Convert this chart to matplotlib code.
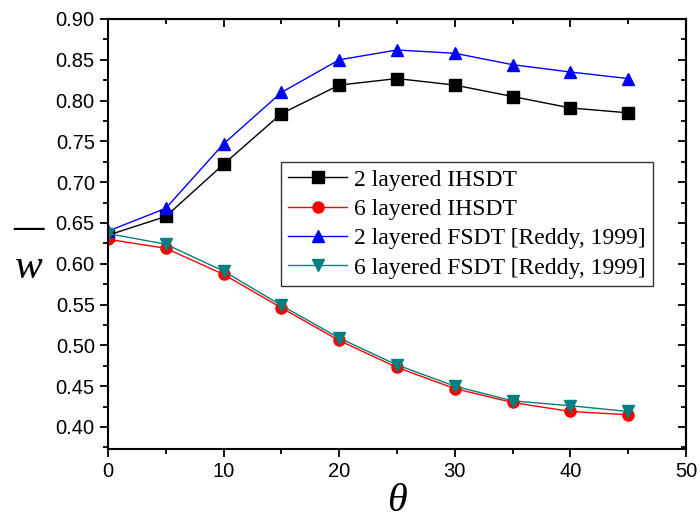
import matplotlib
matplotlib.use("Agg")
import matplotlib.pyplot as plt
from matplotlib.ticker import MultipleLocator, FormatStrFormatter

theta = [0, 5, 10, 15, 20, 25, 30, 35, 40, 45]
ihsdt_2 = [0.635, 0.658, 0.722, 0.784, 0.819, 0.827, 0.819, 0.805, 0.791, 0.785]
ihsdt_6 = [0.630, 0.619, 0.587, 0.546, 0.506, 0.473, 0.447, 0.430, 0.419, 0.415]
fsdt_2 = [0.640, 0.668, 0.747, 0.810, 0.850, 0.862, 0.858, 0.844, 0.835, 0.827]
fsdt_6 = [0.637, 0.624, 0.591, 0.549, 0.509, 0.476, 0.450, 0.432, 0.426, 0.419]

labels = [
    "2 layered IHSDT",
    "6 layered IHSDT",
    "2 layered FSDT [Reddy, 1999]",
    "6 layered FSDT [Reddy, 1999]",
]

fig = plt.figure(figsize=(7.0, 5.24), dpi=100)
ax = fig.add_axes([108 / 700, 1 - 449 / 524, 578 / 700, 430 / 524])

ax.plot(theta, ihsdt_2, color="black", lw=1.0, marker="s", ms=8, label=labels[0])
ax.plot(theta, ihsdt_6, color="red", lw=1.0, marker="o", ms=8, label=labels[1])
ax.plot(theta, fsdt_2, color="blue", lw=1.0, marker="^", ms=9, label=labels[2])
ax.plot(theta, fsdt_6, color="#008080", lw=1.0, marker="v", ms=9, label=labels[3])

ax.set_xlim(0, 50)
ax.set_ylim(0.373, 0.90)
ax.xaxis.set_major_locator(MultipleLocator(10))
ax.xaxis.set_minor_locator(MultipleLocator(5))
ax.yaxis.set_major_locator(MultipleLocator(0.05))
ax.yaxis.set_minor_locator(MultipleLocator(0.025))
ax.yaxis.set_major_formatter(FormatStrFormatter("%.2f"))

for sp in ax.spines.values():
    sp.set_linewidth(1.5)
ax.tick_params(which="both", direction="out", width=1.3, top=False, right=False)
ax.tick_params(which="major", length=6, labelsize=14.5)
ax.tick_params(which="minor", length=3.5)
for lab in ax.get_xticklabels() + ax.get_yticklabels():
    lab.set_family("Liberation Sans")

# inward ticks on the right and top frame
ax_r = ax.secondary_yaxis("right")
ax_r.yaxis.set_major_locator(MultipleLocator(0.05))
ax_r.yaxis.set_minor_locator(MultipleLocator(0.025))
ax_r.tick_params(which="both", direction="in", width=1.3, labelright=False)
ax_r.tick_params(which="major", length=6)
ax_r.tick_params(which="minor", length=3.5)
ax_r.spines["right"].set_linewidth(1.5)

ax_t = ax.secondary_xaxis("top")
ax_t.xaxis.set_major_locator(MultipleLocator(10))
ax_t.xaxis.set_minor_locator(MultipleLocator(5))
ax_t.tick_params(which="both", direction="in", width=1.3, labeltop=False)
ax_t.tick_params(which="major", length=6)
ax_t.tick_params(which="minor", length=3.5)
ax_t.spines["top"].set_linewidth(1.5)

ax.set_xlabel("\u03b8", fontsize=29, style="italic", family="Liberation Serif",
              labelpad=1)

fig.text(29 / 700, 1 - 268 / 524, "w", fontsize=30, style="italic",
         family="Liberation Serif", ha="center", va="center")
fig.text(28 / 700, 1 - 228 / 524, "\u2014", fontsize=22, weight="bold",
         family="Liberation Serif", ha="center", va="center")

leg = ax.legend(loc="upper left", bbox_to_anchor=(173 / 578, (449 - 162) / 430),
                prop={"family": "Liberation Serif", "size": 17},
                frameon=True, fancybox=False, edgecolor="black",
                handlelength=2.5, handletextpad=0.3, labelspacing=0.33,
                borderpad=0.3, borderaxespad=0)
leg.get_frame().set_linewidth(1.0)

fig.savefig("out.png", dpi=100)
